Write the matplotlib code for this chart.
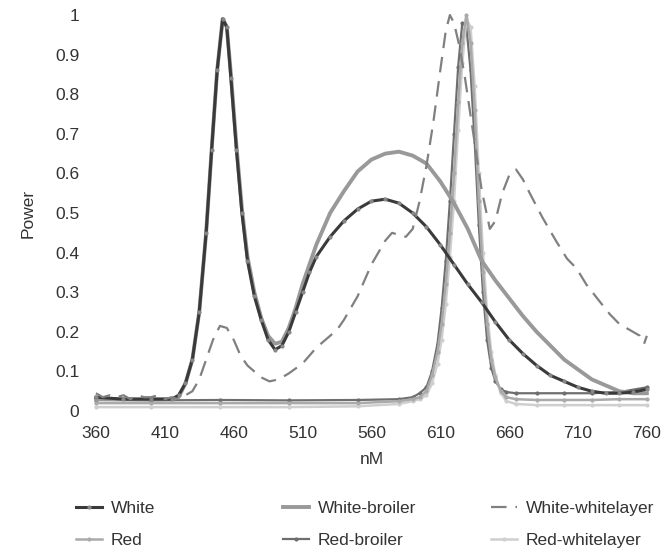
import matplotlib
matplotlib.use("Agg")
import matplotlib.pyplot as plt

plt.rcParams['font.family'] = ['Liberation Sans', 'DejaVu Sans']

# wavelength (nm) / relative power
white_x = [360, 380, 400, 415, 420, 425, 430, 435, 440, 444, 448, 452, 455, 458, 462, 466,
           470, 475, 480, 485, 490, 495, 500, 505, 510, 515, 520, 530, 540, 550, 560, 570,
           580, 590, 600, 610, 620, 630, 640, 650, 660, 670, 680, 690, 700, 710, 720, 730,
           740, 750, 760]
white_y = [0.035, 0.03, 0.03, 0.03, 0.04, 0.07, 0.13, 0.25, 0.45, 0.66, 0.86, 0.99, 0.97, 0.84,
           0.66, 0.50, 0.38, 0.29, 0.23, 0.18, 0.155, 0.165, 0.20, 0.25, 0.30, 0.35, 0.39, 0.44,
           0.48, 0.51, 0.53, 0.535, 0.525, 0.50, 0.465, 0.42, 0.37, 0.32, 0.275, 0.225, 0.18,
           0.145, 0.115, 0.09, 0.075, 0.06, 0.05, 0.045, 0.045, 0.048, 0.055]
broiler_y = [0.03, 0.03, 0.03, 0.03, 0.035, 0.07, 0.13, 0.25, 0.45, 0.66, 0.86, 0.99, 0.97, 0.85,
             0.67, 0.51, 0.39, 0.30, 0.235, 0.19, 0.17, 0.175, 0.21, 0.26, 0.32, 0.37, 0.42, 0.50,
             0.555, 0.605, 0.635, 0.65, 0.655, 0.645, 0.625, 0.58, 0.525, 0.46, 0.38, 0.33, 0.285,
             0.24, 0.20, 0.165, 0.13, 0.105, 0.08, 0.065, 0.05, 0.045, 0.045]

layer_x = [360, 365, 370, 375, 380, 385, 390, 395, 400, 405, 410, 415, 420, 425, 430, 435, 440,
           445, 450, 455, 460, 465, 470, 475, 480, 486, 490, 495, 500, 510, 520, 530, 535, 540,
           550, 560, 570, 575, 580, 585, 590, 595, 600, 605, 610, 614, 617, 620, 624, 628, 634,
           640, 646, 650, 655, 660, 665, 670, 675, 684, 694, 702, 709, 716, 725, 733, 740, 750,
           755, 758, 760]
layer_y = [0.045, 0.035, 0.04, 0.035, 0.04, 0.03, 0.04, 0.035, 0.035, 0.04, 0.03, 0.035, 0.03,
           0.04, 0.05, 0.08, 0.13, 0.18, 0.215, 0.21, 0.18, 0.14, 0.115, 0.10, 0.085, 0.075,
           0.078, 0.085, 0.095, 0.12, 0.16, 0.19, 0.205, 0.23, 0.29, 0.37, 0.43, 0.45, 0.445,
           0.44, 0.46, 0.53, 0.62, 0.73, 0.86, 0.96, 1.0, 0.98, 0.92, 0.84, 0.70, 0.56, 0.46,
           0.48, 0.55, 0.595, 0.61, 0.585, 0.55, 0.49, 0.43, 0.385, 0.36, 0.32, 0.28, 0.245,
           0.22, 0.20, 0.19, 0.17, 0.19]

red_x = [360, 400, 450, 500, 550, 580, 590, 595, 600, 604, 608, 611, 614, 617, 620, 623, 626,
         629, 632, 635, 638, 641, 644, 647, 650, 654, 658, 665, 680, 700, 720, 740, 760]
red_y = [0.02, 0.02, 0.02, 0.02, 0.02, 0.025, 0.03, 0.035, 0.05, 0.09, 0.15, 0.22, 0.32, 0.45,
         0.60, 0.78, 0.93, 1.0, 0.93, 0.76, 0.53, 0.35, 0.22, 0.13, 0.085, 0.05, 0.035, 0.03,
         0.028, 0.028, 0.028, 0.03, 0.03]
red_broiler_y = [0.028, 0.027, 0.028, 0.027, 0.028, 0.03, 0.035, 0.045, 0.06, 0.10, 0.17, 0.26,
                 0.38, 0.53, 0.70, 0.87, 0.98, 0.97, 0.86, 0.68, 0.47, 0.30, 0.18, 0.11, 0.075,
                 0.055, 0.048, 0.045, 0.045, 0.045, 0.045, 0.048, 0.06]
red_layer_y = [0.01, 0.01, 0.01, 0.01, 0.012, 0.018, 0.025, 0.03, 0.04, 0.07, 0.12, 0.18, 0.27,
               0.39, 0.53, 0.71, 0.88, 0.99, 0.97, 0.82, 0.60, 0.40, 0.25, 0.15, 0.09, 0.045,
               0.025, 0.018, 0.015, 0.015, 0.015, 0.015, 0.015]

x_ticks = [360, 410, 460, 510, 560, 610, 660, 710, 760]
y_ticks = [0, 0.1, 0.2, 0.3, 0.4, 0.5, 0.6, 0.7, 0.8, 0.9, 1]
y_labels = ['0', '0.1', '0.2', '0.3', '0.4', '0.5', '0.6', '0.7', '0.8', '0.9', '1']

fig = plt.figure(figsize=(6.71, 5.57), dpi=100)
ax = fig.add_axes([0.143, 0.262, 0.821, 0.711])

l_red_b, = ax.plot(red_x, red_broiler_y, color='#6e6e6e', lw=1.6, marker='o', ms=2,
                   label='Red-broiler', clip_on=False, zorder=1)
l_red_layer, = ax.plot(red_x, red_layer_y, color='#cfcfcf', lw=1.8, marker='o',
                       ms=2, label='Red-whitelayer', clip_on=False, zorder=2)
l_red, = ax.plot(red_x, red_y, color='#aaaaaa', lw=1.8, marker='o', ms=2, label='Red',
                 clip_on=False, zorder=3)
l_broiler, = ax.plot(white_x, broiler_y, color='#999999', lw=2.8, label='White-broiler',
                     clip_on=False, zorder=4)
l_white, = ax.plot(white_x, white_y, color='#3a3a3a', lw=2.2, marker='o', ms=2,
                   mfc='#888888', mec='#888888', label='White', clip_on=False, zorder=5)
l_layer, = ax.plot(layer_x, layer_y, color='#808080', lw=1.6, ls=(0, (7, 4)),
                   label='White-whitelayer', clip_on=False, zorder=6)

ax.set_xlim(360, 760)
ax.set_ylim(0, 1)
ax.set_xticks(x_ticks)
ax.set_yticks(y_ticks)
ax.set_yticklabels(y_labels)
for s in ax.spines.values():
    s.set_visible(False)
ax.tick_params(length=0, labelsize=12.5, labelcolor='#333333')
ax.tick_params(axis='x', pad=11)
ax.tick_params(axis='y', pad=12)
ax.set_xlabel('nM', fontsize=12.5, color='#333333', labelpad=8)
ax.set_ylabel('Power', fontsize=12.5, color='#333333', labelpad=14)

# Excel-like legend with equal column widths: one legend per column
cols = [(l_white, l_red), (l_broiler, l_red_b), (l_layer, l_red_layer)]
col_x = [76, 283, 491]
for (h1, h2), cx in zip(cols, col_x):
    lg = fig.legend([h1, h2], [h1.get_label(), h2.get_label()], loc='upper left',
                    bbox_to_anchor=(cx / 671, 1 - 501 / 557), frameon=False,
                    fontsize=12.5, handlelength=1.5, handletextpad=0.5,
                    labelspacing=0.95, borderpad=0, borderaxespad=0)
    for t in lg.get_texts():
        t.set_color('#333333')

fig.savefig('out.png', dpi=100)
